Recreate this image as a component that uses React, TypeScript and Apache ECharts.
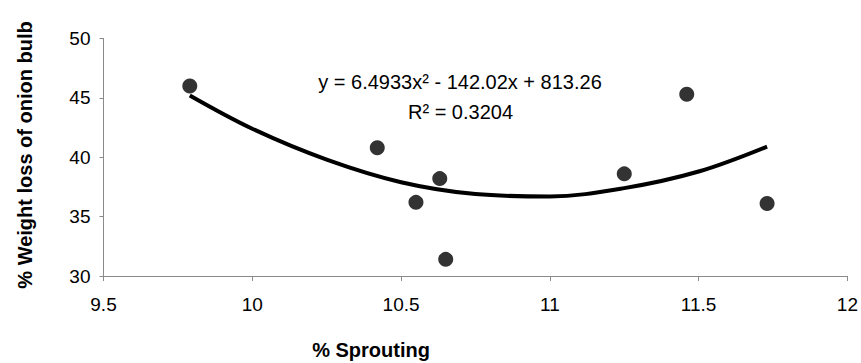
import React, { useEffect, useRef } from "react";
import * as echarts from "echarts";

// Observed data points: [% Sprouting, % Weight loss]
const sproutingX = [9.79, 10.42, 10.55, 10.63, 10.65, 11.25, 11.46, 11.73];
const weightLossY = [46.0, 40.8, 36.2, 38.2, 31.4, 38.6, 45.3, 36.1];

// Trendline points
const trendX = [9.79, 10.0, 10.25, 10.5, 10.75, 11.0, 11.25, 11.5, 11.73];
const trendY = [45.2, 42.4, 39.8, 37.9, 36.9, 36.7, 37.4, 38.8, 40.9];

const xTicks = { min: 9.5, max: 12, interval: 0.5 };
const yTicks = { min: 30, max: 50, interval: 5 };

const equationText = "y = 6.4933x² - 142.02x + 813.26";
const r2Text = "R² = 0.3204";
const xTitle = "% Sprouting";
const yTitle = "% Weight loss of onion bulb";

export default function App() {
  const ref = useRef<HTMLDivElement>(null);

  useEffect(() => {
    if (!ref.current) return;
    const chart = echarts.init(ref.current, undefined, { renderer: "svg" });
    const font = "'Liberation Sans', Arial, sans-serif";
    const axisColor = "#8a8a8a";
    chart.setOption({
      animation: false,
      backgroundColor: "#ffffff",
      grid: { left: 103.5, right: 13, top: 38.5, bottom: 87 },
      xAxis: {
        type: "value",
        min: xTicks.min,
        max: xTicks.max,
        interval: xTicks.interval,
        axisLine: { show: true, lineStyle: { color: axisColor, width: 1 } },
        axisTick: { show: true, length: 5, lineStyle: { color: axisColor } },
        splitLine: { show: false },
        axisLabel: {
          color: "#000000",
          fontSize: 19,
          fontFamily: font,
          margin: 19,
          formatter: (v: number) => String(v),
        },
      },
      yAxis: {
        type: "value",
        min: yTicks.min,
        max: yTicks.max,
        interval: yTicks.interval,
        axisLine: { show: true, lineStyle: { color: axisColor, width: 1 } },
        axisTick: { show: true, length: 4, lineStyle: { color: axisColor } },
        splitLine: { show: false },
        axisLabel: {
          color: "#000000",
          fontSize: 19,
          fontFamily: font,
          margin: 13,
        },
      },
      series: [
        {
          type: "line",
          data: trendX.map((x, i) => [x, trendY[i]]),
          smooth: 0.35,
          showSymbol: false,
          symbol: "none",
          lineStyle: { color: "#000000", width: 4 },
          z: 2,
        },
        {
          type: "scatter",
          data: sproutingX.map((x, i) => [x, weightLossY[i]]),
          symbol: "circle",
          symbolSize: 15,
          itemStyle: { color: "#000000" },
          z: 3,
        },
      ],
      graphic: [
        {
          type: "text",
          x: 460,
          y: 82,
          style: {
            text: equationText,
            fill: "#000000",
            font: `20px ${font}`,
            align: "center",
            verticalAlign: "middle",
          },
        },
        {
          type: "text",
          x: 460.5,
          y: 112,
          style: {
            text: r2Text,
            fill: "#000000",
            font: `20px ${font}`,
            align: "center",
            verticalAlign: "middle",
          },
        },
        {
          type: "text",
          x: 371,
          y: 350,
          style: {
            text: xTitle,
            fill: "#000000",
            font: `bold 20px ${font}`,
            align: "center",
            verticalAlign: "middle",
          },
        },
        {
          type: "text",
          x: 25,
          y: 155,
          rotation: Math.PI / 2,
          style: {
            text: yTitle,
            fill: "#000000",
            font: `bold 20px ${font}`,
            align: "center",
            verticalAlign: "middle",
          },
        },
      ],
    });
    return () => chart.dispose();
  }, []);

  return (
    <div
      ref={ref}
      style={{ position: "fixed", left: 0, top: 0, width: 861, height: 363 }}
    />
  );
}
